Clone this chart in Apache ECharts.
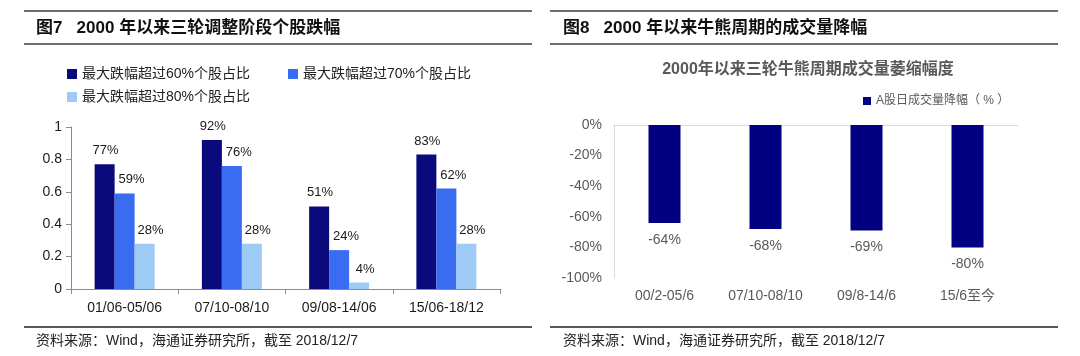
<!DOCTYPE html>
<html><head><meta charset="utf-8">
<script src="https://cdn.jsdelivr.net/npm/echarts@6/dist/echarts.min.js"></script>
<style>html,body{margin:0;padding:0;background:#fff}#c{width:1080px;height:356px}</style>
</head><body><div id="c"></div>
<script>
const FONT = '"Liberation Sans", Arial, "Noto Sans CJK SC", sans-serif';
// Left chart data
const leftCategories = ['01/06-05/06', '07/10-08/10', '09/08-14/06', '15/06-18/12'];
const leftSeriesNames = ['最大跌幅超过60%个股占比', '最大跌幅超过70%个股占比', '最大跌幅超过80%个股占比'];
const over60 = [0.77, 0.92, 0.51, 0.83];
const over70 = [0.59, 0.76, 0.24, 0.62];
const over80 = [0.28, 0.28, 0.04, 0.28];
const leftYTicks = ['0', '0.2', '0.4', '0.6', '0.8', '1'];
// Right chart data
const rightCategories = ['00/2-05/6', '07/10-08/10', '09/8-14/6', '15/6至今'];
const rightSeriesName = 'A股日成交量降幅（ % ）';
const volumeDrop = [-0.64, -0.68, -0.69, -0.80];

const leftColors = ['#0a0a7c', '#3a6cf2', '#9ecbf5'];
const leftLabelShift = [1, 7, 6];
const pct = v => Math.round(v * 100) + '%';

const chart = echarts.init(document.getElementById('c'), null, {renderer: 'canvas'});

function rule(x1, x2, y, color, w) {
  return {type: 'line', shape: {x1: x1, y1: y, x2: x2, y2: y}, style: {stroke: color, lineWidth: w}, silent: true};
}
function txt(x, y, text, size, weight, color, align) {
  return {type: 'text', x: x, y: y, style: {text: text, font: weight + ' ' + size + 'px ' + FONT, fill: color, textAlign: align || 'left', textVerticalAlign: 'middle'}, silent: true};
}

const leftSeries = [over60, over70, over80].map((d, i) => ({
  name: leftSeriesNames[i], type: 'bar', xAxisIndex: 0, yAxisIndex: 0,
  data: d, barWidth: 20, barGap: '0%',
  itemStyle: {color: leftColors[i]},
  label: {show: true, position: 'top', distance: 7, offset: [leftLabelShift[i], 0], formatter: p => pct(p.value), fontFamily: FONT, fontSize: 13, color: '#1a1a1a'}
}));

const option = {
  animation: false,
  backgroundColor: '#fff',
  graphic: [
    rule(24, 532, 11, '#6e6e6e', 2),
    rule(24, 532, 44, '#6e6e6e', 2),
    rule(24, 532, 327, '#222', 1.5),
    rule(550, 1058, 11, '#6e6e6e', 2),
    rule(550, 1058, 44, '#6e6e6e', 2),
    rule(550, 1058, 327, '#222', 1.5),
    txt(36, 28, '图7   2000 年以来三轮调整阶段个股跌幅', 17, 'bold', '#111'),
    txt(563, 28, '图8   2000 年以来牛熊周期的成交量降幅', 17, 'bold', '#111'),
    txt(808, 70, '2000年以来三轮牛熊周期成交量萎缩幅度', 16, 'bold', '#595959', 'center'),
    txt(36, 341, '资料来源：Wind，海通证券研究所，截至 2018/12/7', 14, 'normal', '#222'),
    txt(563, 341, '资料来源：Wind，海通证券研究所，截至 2018/12/7', 14, 'normal', '#222')
  ],
  legend: [
    {data: [leftSeriesNames[0], leftSeriesNames[1]], left: 62, top: 62, itemWidth: 10, itemHeight: 10, itemGap: 38, icon: 'rect',
     textStyle: {fontFamily: FONT, fontSize: 14, color: '#222'}},
    {data: [leftSeriesNames[2]], left: 62, top: 85, itemWidth: 10, itemHeight: 10, icon: 'rect',
     textStyle: {fontFamily: FONT, fontSize: 14, color: '#222'}},
    {data: [rightSeriesName], left: 858, top: 90, itemWidth: 8, itemHeight: 8, itemGap: 4, icon: 'rect',
     textStyle: {fontFamily: FONT, fontSize: 12, color: '#595959'}}
  ],
  grid: [
    {left: 71, top: 127, width: 429, height: 162},
    {left: 614, top: 125, width: 404, height: 153}
  ],
  xAxis: [
    {type: 'category', gridIndex: 0, data: leftCategories,
     axisLine: {lineStyle: {color: '#8c8c8c'}}, axisTick: {show: true, length: 5, lineStyle: {color: '#8c8c8c'}},
     axisLabel: {fontFamily: FONT, fontSize: 14, color: '#1a1a1a', margin: 12}},
    {type: 'category', gridIndex: 1, data: rightCategories, position: 'bottom',
     axisLine: {show: false, onZero: false}, axisTick: {show: false},
     axisLabel: {fontFamily: FONT, fontSize: 14, color: '#595959', margin: 11}},
    {type: 'category', gridIndex: 1, data: rightCategories, position: 'top',
     axisLine: {show: true, onZero: false, lineStyle: {color: '#d9d9d9'}}, axisTick: {show: false}, axisLabel: {show: false}}
  ],
  yAxis: [
    {type: 'value', gridIndex: 0, min: 0, max: 1, interval: 0.2,
     axisLine: {show: true, lineStyle: {color: '#8c8c8c'}}, axisTick: {show: true, length: 5, lineStyle: {color: '#8c8c8c'}},
     splitLine: {show: false},
     axisLabel: {fontFamily: FONT, fontSize: 14, color: '#1a1a1a', margin: 9, formatter: (v) => leftYTicks[Math.round(v / 0.2)]}},
    {type: 'value', gridIndex: 1, min: -1, max: 0, interval: 0.2,
     axisLine: {show: true, lineStyle: {color: '#d9d9d9'}}, axisTick: {show: false},
     splitLine: {show: false},
     axisLabel: {fontFamily: FONT, fontSize: 14, color: '#595959', margin: 12, formatter: v => pct(v)}}
  ],
  series: leftSeries.concat([{
    name: rightSeriesName, type: 'bar', xAxisIndex: 1, yAxisIndex: 1,
    data: volumeDrop, barWidth: 32,
    itemStyle: {color: '#000080'},
    label: {show: true, position: 'bottom', distance: 10, formatter: p => pct(p.value), fontFamily: FONT, fontSize: 14, color: '#595959'}
  }])
};
chart.setOption(option);
</script></body></html>
